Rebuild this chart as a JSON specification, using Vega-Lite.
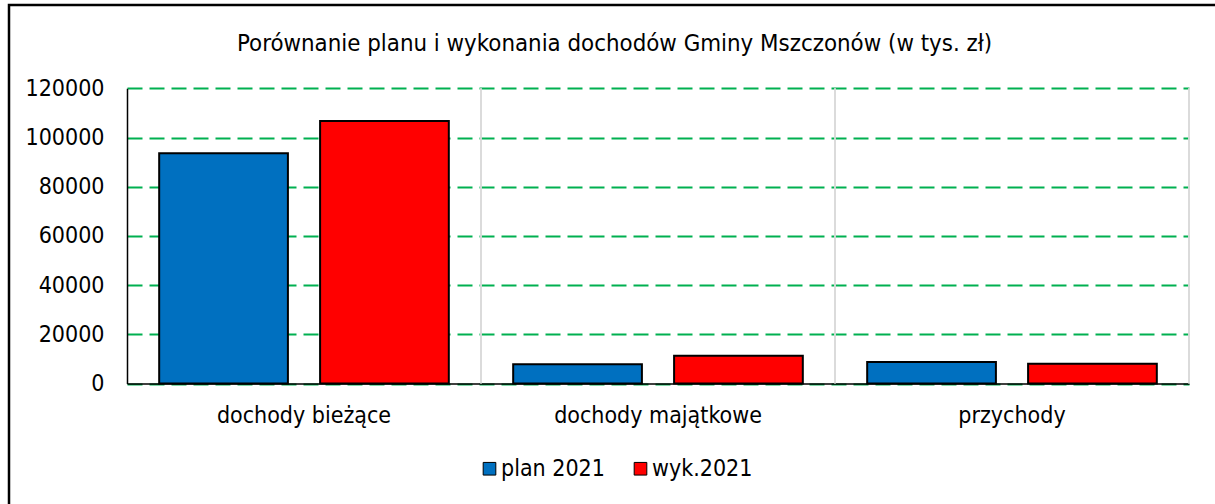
{
  "$schema": "https://vega.github.io/schema/vega-lite/v6.json",
  "autosize": {"type": "none"},
  "width": 1206,
  "height": 499,
  "padding": {"left": 9, "top": 5, "right": 0, "bottom": 0},
  "background": "white",
  "title": {
    "text": "Porównanie planu i wykonania dochodów Gminy Mszczonów (w tys. zł)",
    "font": "DejaVu Sans Condensed, DejaVu Sans",
    "fontSize": 23.8,
    "fontWeight": "normal",
    "color": "black",
    "anchor": "start",
    "baseline": "middle",
    "offset": -40,
    "dx": 228,
    "dy": 23
  },
  "data": {
    "values": [
      {"kategoria": "dochody bieżące", "seria": "plan 2021", "wartosc": 93600},
      {"kategoria": "dochody bieżące", "seria": "wyk.2021", "wartosc": 106700},
      {"kategoria": "dochody majątkowe", "seria": "plan 2021", "wartosc": 7800},
      {"kategoria": "dochody majątkowe", "seria": "wyk.2021", "wartosc": 11300},
      {"kategoria": "przychody", "seria": "plan 2021", "wartosc": 8740},
      {"kategoria": "przychody", "seria": "wyk.2021", "wartosc": 8050}
    ]
  },
  "encoding": {
    "x": {
      "field": "kategoria",
      "type": "nominal",
      "sort": null,
      "scale": {"range": [118, 1180], "paddingInner": 0, "paddingOuter": 0},
      "axis": {
        "title": null,
        "orient": "bottom",
        "offset": -120.5,
        "labelAngle": 0,
        "labelFont": "DejaVu Sans Condensed, DejaVu Sans",
        "labelFontSize": 23,
        "labelColor": "black",
        "labelPadding": 21,
        "labelLimit": 0,
        "ticks": false,
        "tickSize": 0,
        "domainColor": "black",
        "domainWidth": 1.5,
        "grid": false
      }
    }
  },
  "layer": [
    {
      "mark": {"type": "rule", "color": "#D9D9D9", "strokeWidth": 1.5},
      "encoding": {
        "x": {"field": "kategoria", "type": "nominal", "sort": null, "bandPosition": 1},
        "y": {"datum": 0, "type": "quantitative"},
        "y2": {"datum": 120000}
      }
    },
    {
      "mark": {"type": "bar", "stroke": "black", "strokeWidth": 2},
      "encoding": {
        "xOffset": {
          "field": "seria",
          "type": "nominal",
          "scale": {"paddingInner": 0.2, "paddingOuter": 0.2}
        },
        "y": {
          "field": "wartosc",
          "type": "quantitative",
          "scale": {"domain": [0, 120000], "nice": false, "range": [378.5, 83.3]},
          "axis": {
            "title": null,
            "offset": -118,
            "values": [0, 20000, 40000, 60000, 80000, 100000, 120000],
            "format": "d",
            "labelFont": "DejaVu Sans Condensed, DejaVu Sans",
            "labelFontSize": 23,
            "labelColor": "black",
            "labelPadding": 23,
            "ticks": false,
            "tickSize": 0,
            "domainColor": "black",
            "domainWidth": 1.5,
            "grid": true,
            "gridColor": "#00B050",
            "gridWidth": 2,
            "gridDash": [15, 7]
          }
        },
        "color": {
          "field": "seria",
          "type": "nominal",
          "scale": {"domain": ["plan 2021", "wyk.2021"], "range": ["#0070C0", "#FF0000"]},
          "legend": {
            "title": null,
            "orient": "none",
            "legendX": 469,
            "legendY": 452,
            "direction": "horizontal",
            "symbolType": "square",
            "symbolSize": 160,
            "symbolStrokeColor": "black",
            "symbolStrokeWidth": 1,
            "labelFont": "DejaVu Sans Condensed, DejaVu Sans",
            "labelFontSize": 23,
            "labelColor": "black",
            "labelOffset": 0,
            "columnPadding": 24,
            "padding": 0
          }
        }
      }
    }
  ],
  "config": {
    "view": {"stroke": "black", "strokeWidth": 2.5, "fill": "white", "strokeDash": [1206, 1705, 499]}
  }
}
